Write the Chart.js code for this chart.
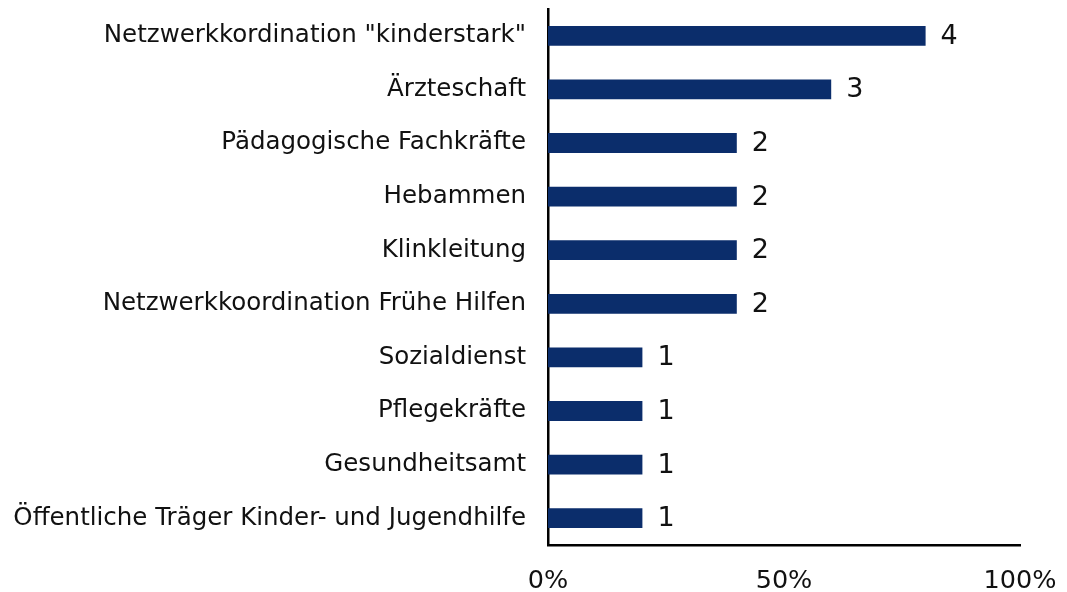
<!DOCTYPE html>
<html>
<head>
<meta charset="utf-8">
<script src="https://cdn.jsdelivr.net/npm/chart.js@4"></script>
<style>
  html, body { margin: 0; padding: 0; background: #fff; }
  #wrap { width: 1067px; height: 592px; }
</style>
</head>
<body>
<div id="wrap"><canvas id="chart"></canvas></div>
<script>
const kategorien = [
  'Netzwerkkordination "kinderstark"',
  "Ärzteschaft",
  "Pädagogische Fachkräfte",
  "Hebammen",
  "Klinkleitung",
  "Netzwerkkoordination Frühe Hilfen",
  "Sozialdienst",
  "Pflegekräfte",
  "Gesundheitsamt",
  "Öffentliche Träger Kinder- und Jugendhilfe",
];
const anzahl = [4, 3, 2, 2, 2, 2, 1, 1, 1, 1];
const anteil = [80, 60, 40, 40, 40, 40, 20, 20, 20, 20];
const xTicks = [0, 50, 100];

// Zahlen rechts neben den Balken
const anzahlLabels = {
  id: "anzahlLabels",
  afterDatasetsDraw(chart) {
    const ctx = chart.ctx;
    const meta = chart.getDatasetMeta(0);
    ctx.save();
    ctx.font = "27px 'DejaVu Sans'";
    ctx.fillStyle = "#111";
    ctx.textAlign = "left";
    ctx.textBaseline = "middle";
    meta.data.forEach((bar, i) => {
      ctx.fillText(String(anzahl[i]), bar.x + 15, bar.y + 1);
    });
    ctx.restore();
  },
};

new Chart(document.getElementById("chart"), {
  type: "bar",
  data: {
    labels: kategorien,
    datasets: [
      {
        data: anteil,
        backgroundColor: "#0b2d6b",
        barPercentage: 0.37,
        categoryPercentage: 1,
      },
    ],
  },
  options: {
    indexAxis: "y",
    responsive: true,
    maintainAspectRatio: false,
    animation: false,
    layout: { padding: { top: 9, right: 47, left: 0, bottom: 0 } },
    plugins: { legend: { display: false }, tooltip: { enabled: false } },
    scales: {
      x: {
        min: 0,
        max: 100,
        afterBuildTicks: (scale) => {
          scale.ticks = xTicks.map((v) => ({ value: v }));
        },
        afterFit: (scale) => {
          scale.height = 47;
          scale.paddingLeft = 0;
          scale.paddingRight = 0;
        },
        grid: { display: false, drawTicks: false },
        border: { display: true, color: "#000", width: 2.5 },
        ticks: {
          padding: 21,
          color: "#111",
          font: { family: "DejaVu Sans", size: 25.5 },
          callback: (v) => v + "%",
          maxRotation: 0,
        },
      },
      y: {
        afterFit: (scale) => {
          scale.width = 548;
          scale.paddingTop = 0;
          scale.paddingBottom = 0;
        },
        grid: { display: false, drawTicks: false },
        border: { display: true, color: "#000", width: 2.5 },
        ticks: {
          padding: 22,
          color: "#111",
          font: { family: "DejaVu Sans", size: 24.5 },
          autoSkip: false,
        },
      },
    },
  },
  plugins: [anzahlLabels],
});
</script>
</body>
</html>
